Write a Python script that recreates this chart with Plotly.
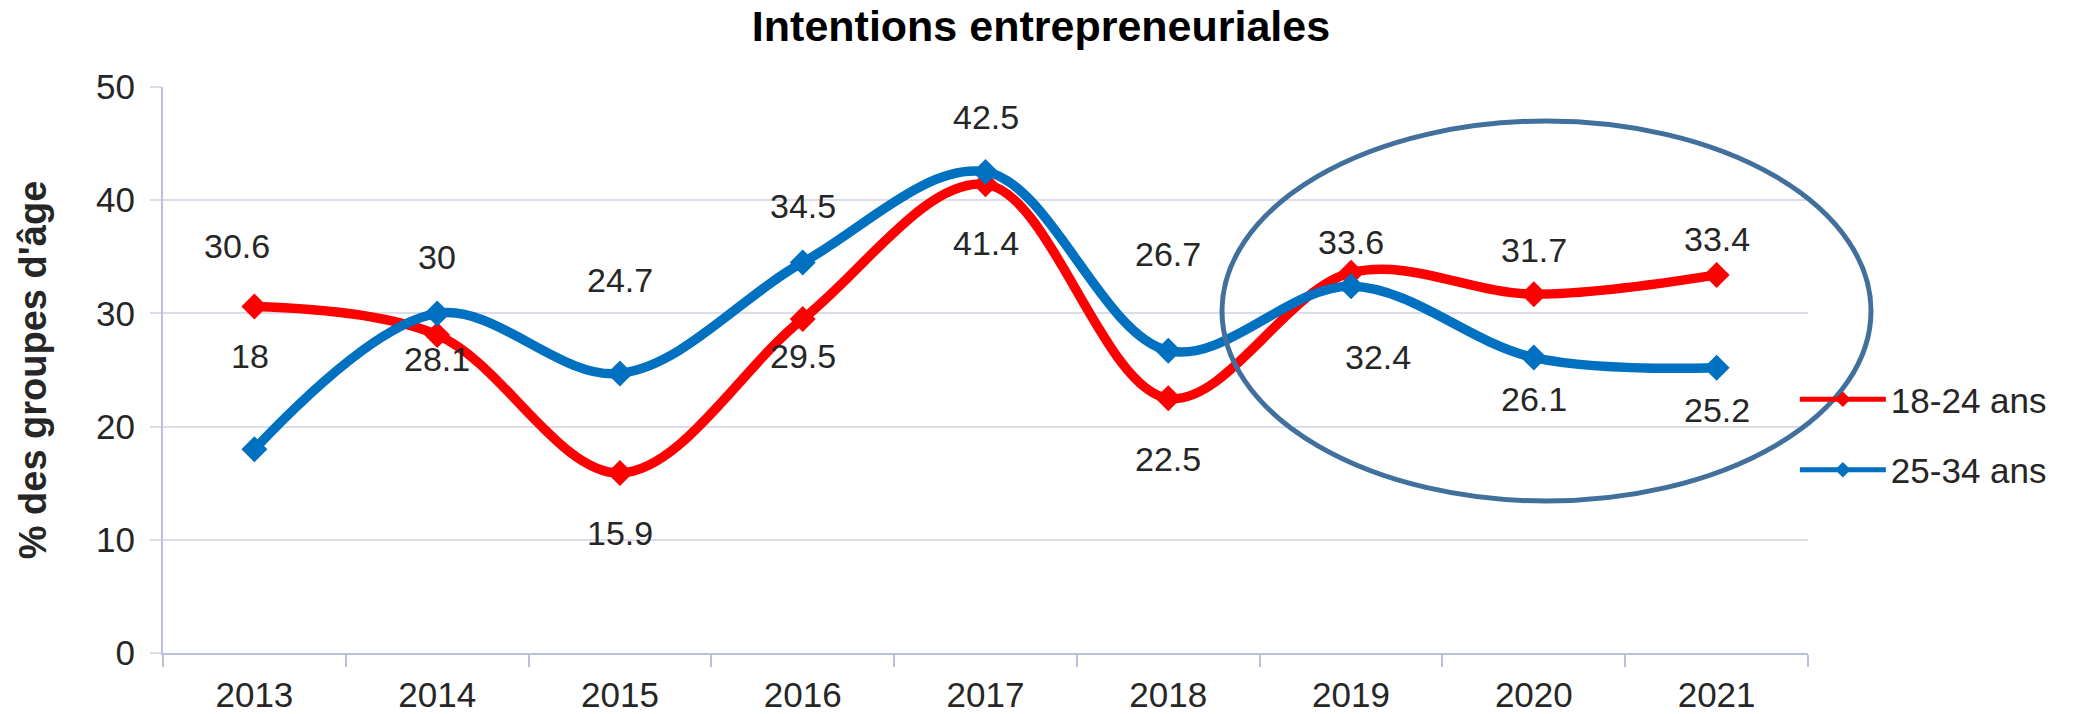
import plotly.graph_objects as go

years = ["2013", "2014", "2015", "2016", "2017", "2018", "2019", "2020", "2021"]
s1_name = "18-24 ans"
s1_vals = [30.6, 28.1, 15.9, 29.5, 41.4, 22.5, 33.6, 31.7, 33.4]
s2_name = "25-34 ans"
s2_vals = [18, 30, 24.7, 34.5, 42.5, 26.7, 32.4, 26.1, 25.2]
y_ticks = [0, 10, 20, 30, 40, 50]

# label offsets in pixels (style only)
s1_dy = [61, -24, -60, -37, -59, -61, 31, 44, 36]
s1_dx = [-17, 0, 0, 0, 0, 0, 0, 0, 0]
s2_dy = [93, 56, 93, 56, 55, 97, -71, -41, -42]
s2_dx = [-4, 0, 0, 0, 0, 0, 27, 0, 0]

RED = "#FF0000"
BLUE = "#0070C0"
FONT = "Liberation Sans, Arial, sans-serif"
TXT = "#262626"

fig = go.Figure()
for name, vals, col, grp in [(s1_name, s1_vals, RED, "a"), (s2_name, s2_vals, BLUE, "b")]:
    fig.add_trace(go.Scatter(
        x=years, y=vals, name=name, mode="lines+markers", legendgroup=grp,
        line=dict(color=col, width=9.5, shape="spline", smoothing=1),
        marker=dict(symbol="diamond", size=20, color=col),
    ))

fig.update_layout(
    width=2088, height=714,
    margin=dict(l=163, r=280, t=87, b=61, autoexpand=False),
    paper_bgcolor="white", plot_bgcolor="white",
    title=dict(text="<b>Intentions entrepreneuriales</b>", x=1041/2088, xref="container",
               xanchor="center", y=1-26/714, yref="container", yanchor="middle",
               font=dict(family=FONT, size=43, color="#000000")),
    showlegend=True,
    legend=dict(x=0.992, xanchor="left", y=0.50, yanchor="top",
                font=dict(family=FONT, size=35, color=TXT), itemsizing="constant",
                itemwidth=86, tracegroupgap=22, bgcolor="rgba(0,0,0,0)"),
    font=dict(family=FONT, color=TXT),
)
fig.update_xaxes(type="category", showline=True, linecolor="#BCC0DC", linewidth=2,
                 ticks="outside", tickson="boundaries", ticklen=12, tickcolor="#BCC0DC", tickwidth=2,
                 showgrid=False, tickfont=dict(family=FONT, size=35, color=TXT),
                 ticklabelstandoff=10, range=[-0.5, 8.5], automargin=False)
fig.update_yaxes(range=[0, 50], tickvals=y_ticks, showline=True, linecolor="#BCC0DC", linewidth=2,
                 ticks="outside", ticklen=11, tickcolor="#DCDCEB", tickwidth=2,
                 showgrid=True, gridcolor="#DCDCEB", gridwidth=2, zeroline=False,
                 tickfont=dict(family=FONT, size=35, color=TXT), ticklabelstandoff=8,
                 automargin=False,
                 title=dict(text="<b>% des groupes d'âge</b>", font=dict(family=FONT, size=38, color=TXT),
                            standoff=38))

# data labels: category index positions on the category axis
for vals, dys, dxs in [(s1_vals, s1_dy, s1_dx), (s2_vals, s2_dy, s2_dx)]:
    for i, (v, dy, dx) in enumerate(zip(vals, dys, dxs)):
        fig.add_annotation(x=i, y=v, xref="x", yref="y", text=f"{v:g}", showarrow=False,
                           yshift=dy, xshift=dx,
                           font=dict(family=FONT, size=34, color=TXT))

fig.add_shape(type="circle", xref="paper", yref="paper",
              x0=(1222-163)/1645, x1=(1871-163)/1645, y0=(653-501)/566, y1=(653-121)/566,
              line=dict(color="#41709C", width=5), fillcolor="rgba(0,0,0,0)", layer="above")

fig.write_html("out.html", config={"displayModeBar": False},
               post_script="document.body.style.margin='0';document.body.style.padding='0';")
